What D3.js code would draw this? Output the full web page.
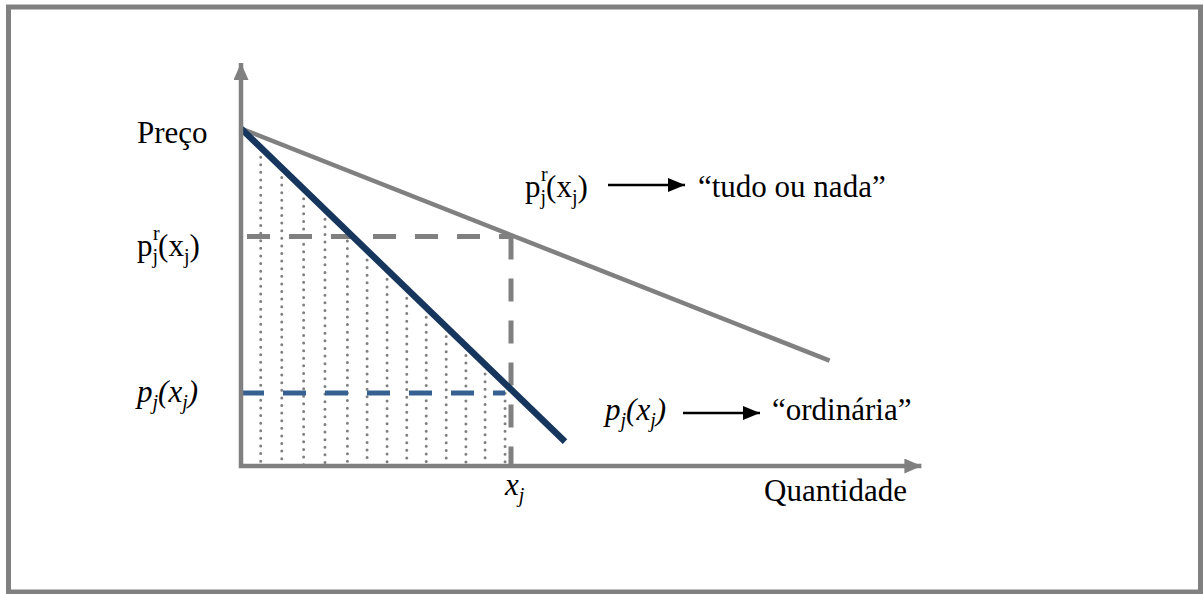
<!DOCTYPE html>
<html>
<head>
<meta charset="utf-8">
<script src="https://cdn.jsdelivr.net/npm/d3@7"></script>
<style>
  body { margin: 0; background: #fff; }
  svg text { font-family: "Liberation Serif", "Times New Roman", serif; fill: #000; }
</style>
</head>
<body>
<svg id="chart"></svg>
<script>
// demand curves (quantity, price), in chart units
const ordinaryCurve = [{ q: 0, p: 12.5 }, { q: 12, p: 0.9 }];
const allOrNothingCurve = [{ q: 0, p: 12.5 }, { q: 21.8, p: 3.9 }];
const xj = 10;
const prXj = 8.5;
const pXj = 2.7;
// vertical dotted lines under the ordinary demand curve
const dotPositions = [0.73, 1.51, 2.32, 3.11, 3.94, 4.67, 5.41, 6.14, 6.86, 7.6, 8.33, 9.04, 9.78];
const axisMax = { q: 25.2, p: 15 };

const W = 1203, H = 594;
const grey = "#808080", navy = "#17365d", blue = "#376092";

const svg = d3.select("#chart").attr("width", W).attr("height", H);

svg.append("rect")
    .attr("x", 8.5).attr("y", 7)
    .attr("width", 1192).attr("height", 585)
    .attr("fill", "none")
    .attr("stroke", grey)
    .attr("stroke-width", 5);

const x = d3.scaleLinear().domain([0, 25]).range([241, 916]);
const y = d3.scaleLinear().domain([0, 15]).range([466, 61]);

// ordinary demand as a function of q
const ordinary = d3.scaleLinear()
    .domain(ordinaryCurve.map(d => d.q))
    .range(ordinaryCurve.map(d => d.p));

const defs = svg.append("defs");
function arrowMarker(id, color, w, h) {
    defs.append("marker")
        .attr("id", id)
        .attr("viewBox", `0 0 ${w} ${h}`)
        .attr("refX", w).attr("refY", h / 2)
        .attr("markerWidth", w).attr("markerHeight", h)
        .attr("markerUnits", "userSpaceOnUse")
        .attr("orient", "auto")
        .append("path")
        .attr("d", `M0,0 L${w},${h / 2} L0,${h} Z`)
        .attr("fill", color);
}
arrowMarker("arrGrey", grey, 17, 15);
arrowMarker("arrBlack", "#000", 17, 14);

// dotted verticals
svg.append("g").selectAll("line")
    .data(dotPositions)
    .join("line")
    .attr("x1", d => x(d)).attr("x2", d => x(d))
    .attr("y1", d => y(ordinary(d)) + 2)
    .attr("y2", y(0) - 1)
    .attr("stroke", grey)
    .attr("stroke-width", 3)
    .attr("stroke-linecap", "round")
    .attr("stroke-dasharray", "0 7.6");

// dashed guides
svg.append("line")
    .attr("x1", x(0) + 6).attr("x2", x(xj))
    .attr("y1", y(prXj)).attr("y2", y(prXj))
    .attr("stroke", grey).attr("stroke-width", 5)
    .attr("stroke-dasharray", "23 19");
svg.append("line")
    .attr("x1", x(xj)).attr("x2", x(xj))
    .attr("y1", y(prXj)).attr("y2", y(0))
    .attr("stroke", grey).attr("stroke-width", 5)
    .attr("stroke-dasharray", "23 19");
svg.append("line")
    .attr("x1", x(0)).attr("x2", x(xj) - 6)
    .attr("y1", y(pXj)).attr("y2", y(pXj))
    .attr("stroke", blue).attr("stroke-width", 5)
    .attr("stroke-dasharray", "23 19");

const line = d3.line().x(d => x(d.q)).y(d => y(d.p));

svg.append("path")
    .datum(allOrNothingCurve)
    .attr("d", line)
    .attr("fill", "none")
    .attr("stroke", grey)
    .attr("stroke-width", 4.5);

svg.append("path")
    .datum(ordinaryCurve)
    .attr("d", line)
    .attr("fill", "none")
    .attr("stroke", navy)
    .attr("stroke-width", 6.5);

// axes
svg.append("line")
    .attr("x1", x(0)).attr("y1", y(0) + 2)
    .attr("x2", x(0)).attr("y2", y(axisMax.p) + 2)
    .attr("stroke", grey).attr("stroke-width", 4.5)
    .attr("marker-end", "url(#arrGrey)");
svg.append("line")
    .attr("x1", x(0) - 2).attr("y1", y(0))
    .attr("x2", x(axisMax.q)).attr("y2", y(0))
    .attr("stroke", grey).attr("stroke-width", 4.5)
    .attr("marker-end", "url(#arrGrey)");

// labels: p, r superscript and j subscript as separate texts so they stack
const fs = 31, sub = 20;
function pLabel(g, italic, withR) {
    const style = italic ? "italic" : "normal";
    const main = g.append("text").style("font-size", fs + "px").style("font-style", style);
    main.append("tspan").text("p");
    if (withR) {
        g.append("text").attr("x", 16).attr("y", -16)
            .style("font-size", sub + "px").style("font-style", style).text("r");
        main.append("tspan").attr("dy", 7).style("font-size", sub + "px").text("j");
    } else {
        main.append("tspan").attr("dy", 7).style("font-size", sub + "px").text("j");
    }
    main.append("tspan").attr("dy", -7).text("(x");
    main.append("tspan").attr("dy", 7).style("font-size", sub + "px").text("j");
    main.append("tspan").attr("dy", -7).text(")");
    return main;
}

svg.append("text")
    .attr("x", 137).attr("y", y(12.5) + 14)
    .style("font-size", fs + "px")
    .text("Preço");

pLabel(svg.append("g").attr("transform", `translate(137,${y(prXj) + 19})`), false, true);
pLabel(svg.append("g").attr("transform", `translate(137,${y(pXj) + 9})`), true, false);

const xjLabel = svg.append("text")
    .attr("x", x(xj) - 6).attr("y", 495)
    .style("font-size", fs + "px").style("font-style", "italic");
xjLabel.append("tspan").text("x");
xjLabel.append("tspan").attr("dy", 7).style("font-size", sub + "px").text("j");

svg.append("text")
    .attr("x", 907).attr("y", 501)
    .attr("text-anchor", "end")
    .style("font-size", fs + "px")
    .text("Quantidade");

// annotations
const ann1 = svg.append("g").attr("transform", "translate(525,197)");
pLabel(ann1, false, true);
ann1.append("line")
    .attr("x1", 83).attr("x2", 160).attr("y1", -12).attr("y2", -12)
    .attr("stroke", "#000").attr("stroke-width", 2.5)
    .attr("marker-end", "url(#arrBlack)");
ann1.append("text").attr("x", 173).attr("y", 0)
    .style("font-size", fs + "px").text("\u201Ctudo ou nada\u201D");

const ann2 = svg.append("g").attr("transform", "translate(605,420)");
pLabel(ann2, true, false);
ann2.append("line")
    .attr("x1", 78).attr("x2", 155).attr("y1", -7).attr("y2", -7)
    .attr("stroke", "#000").attr("stroke-width", 2.5)
    .attr("marker-end", "url(#arrBlack)");
ann2.append("text").attr("x", 167).attr("y", 0)
    .style("font-size", fs + "px").text("\u201Cordinária\u201D");
</script>
</body>
</html>
